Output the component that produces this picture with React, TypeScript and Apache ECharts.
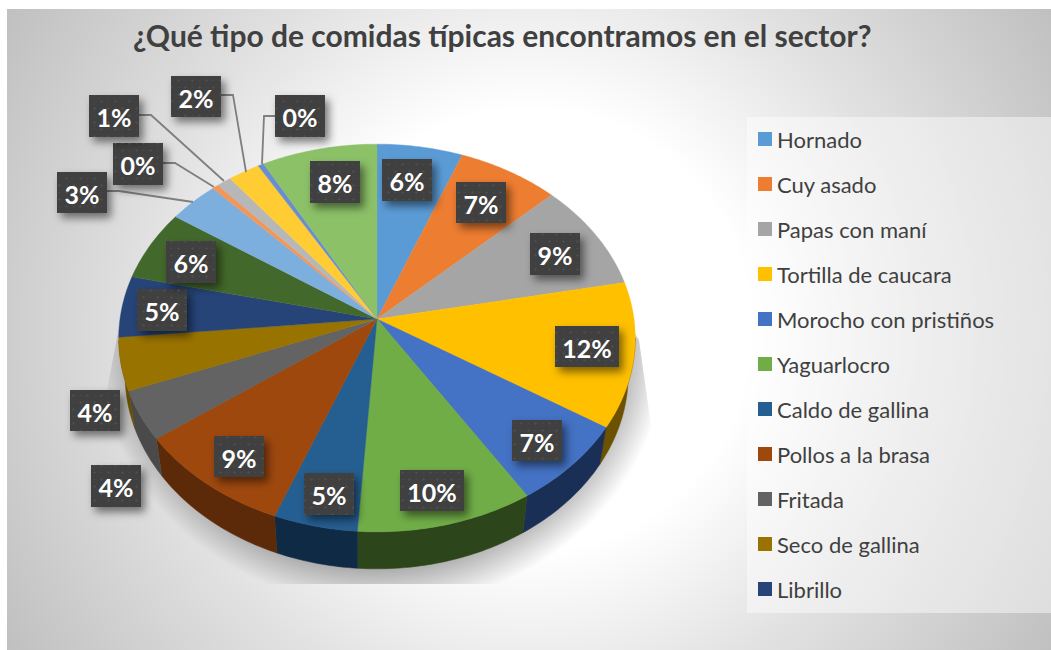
import React, { useEffect, useRef } from "react";
import * as echarts from "echarts";

const TITLE = "¿Qué tipo de comidas típicas encontramos en el sector?";
const legendNames = [
  "Hornado", "Cuy asado", "Papas con maní", "Tortilla de caucara", "Morocho con pristiños",
  "Yaguarlocro", "Caldo de gallina", "Pollos a la brasa", "Fritada", "Seco de gallina", "Librillo",
];
// Slices in drawing order, clockwise from the top. The last seven have no visible legend entry.
const sliceValues = [5.9, 7.0, 9.0, 12.1, 7.0, 10.1, 4.8, 9.1, 4.1, 4.4, 5.1, 5.9, 3.49, 0.45, 1.0, 2.2, 0.4, 7.96];
const sliceColors = [
  "#5B9BD5", "#ED7D31", "#A5A5A5", "#FFC000", "#4472C4", "#70AD47", "#255E91", "#9E480E", "#636363",
  "#997300", "#264478", "#43682B", "#7CAFDD", "#F1975A", "#B7B7B7", "#FFCD33", "#698ED0", "#8CC168",
];
const wallColors = [
  "#2a4a66", "#703b17", "#4e4e4e", "#6b5100", "#1a2f55", "#2d451a", "#0f2a45", "#5c2a08", "#4a4a4a",
  "#6b5100", "#121f38", "#1f3114", "#3a5268", "#72472a", "#565656", "#786118", "#324362", "#425b31",
];
// Hand-placed data label boxes [x, y, w, h], one per slice, as in the reference.
const labelBoxes = [
  [382, 159, 50, 42], [456, 182, 50, 41], [530, 233, 50, 42], [555, 326, 64, 41], [512, 420, 50, 41],
  [400, 470, 64, 41], [304, 473, 50, 42], [214, 436, 50, 41], [91, 465, 50, 42], [70, 390, 50, 41],
  [137, 289, 50, 42], [166, 241, 50, 42], [57, 172, 50, 41], [113, 143, 50, 42], [89, 95, 50, 42],
  [171, 76, 50, 41], [275, 95, 50, 42], [310, 161, 50, 42],
];
const leaderLines = [
  [[107, 191], [119, 191], [193, 202]],
  [[163, 163], [175, 163], [214, 187]],
  [[139, 115], [151, 115], [224, 181]],
  [[221, 95], [233, 95], [246, 172]],
  [[275, 116], [264, 116], [262, 164]],
];

const total = sliceValues.reduce((a, b) => a + b, 0);
const cumulative: number[] = [0];
sliceValues.forEach((v, i) => cumulative.push(cumulative[i] + v));

// Pie projected in perspective: apex is the pie's centre, the rim an off-centre ellipse.
const CX = 377, CY = 319, A = 257, B = 192, K = 0.098, DEPTH = 37, SIL_Y = 338;
const project = (phi: number) => {
  const v = -Math.cos(phi);
  const d = 1 - K * v;
  return [CX + (A * Math.sin(phi)) / d, CY + (B * v) / d];
};
const rim = (from: number, to: number) => {
  const n = Math.max(2, Math.ceil(((to - from) * 180) / Math.PI));
  const out: number[][] = [];
  for (let i = 0; i <= n; i++) out.push(project(from + ((to - from) * i) / n));
  return out;
};
const sliceElements = (i: number) => {
  const from = (cumulative[i] / total) * Math.PI * 2;
  const to = (cumulative[i + 1] / total) * Math.PI * 2;
  const arc = rim(from, to);
  const children: any[] = [];
  const front = arc.filter((p) => p[1] > SIL_Y);
  if (front.length > 1) {
    const lower = front.map((p) => [363 + (p[0] - 363) * 0.974, p[1] + DEPTH]).reverse();
    children.push({
      type: "polygon", z2: 1, silent: true,
      shape: { points: [...front, ...lower] },
      style: { fill: wallColors[i], stroke: wallColors[i], lineWidth: 0.5 },
    });
  }
  children.push({
    type: "polygon", z2: 2, silent: true,
    shape: { points: [[CX, CY], ...arc] },
    style: { fill: sliceColors[i], stroke: sliceColors[i], lineWidth: 0.4 },
  });
  return { type: "group", children };
};

const DOTS =
  "data:image/svg+xml," +
  encodeURIComponent(
    '<svg xmlns="http://www.w3.org/2000/svg" width="14" height="14"><circle cx="3.5" cy="3.5" r="1.1" fill="#525252"/><circle cx="10.5" cy="10.5" r="1.1" fill="#525252"/><circle cx="10.5" cy="3.5" r="0.8" fill="#4a4a4a"/><circle cx="3.5" cy="10.5" r="0.8" fill="#4a4a4a"/></svg>'
  );

const labelElements = () => {
  const out: any[] = [];
  leaderLines.forEach((pts) =>
    out.push({
      type: "polyline", z: 8, silent: true,
      shape: { points: pts },
      style: { fill: "none", stroke: "#7f7f7f", lineWidth: 1.8 },
    })
  );
  sliceValues.forEach((v, i) => {
    const [x, y, w, h] = labelBoxes[i];
    out.push({
      type: "rect", z: 9, silent: true,
      shape: { x, y, width: w, height: h },
      style: { fill: "#404040", shadowBlur: 8, shadowOffsetX: 4, shadowOffsetY: 5, shadowColor: "rgba(0,0,0,0.5)" },
    });
    out.push({
      type: "rect", z: 10, silent: true,
      shape: { x, y, width: w, height: h },
      style: { fill: { image: DOTS, repeat: "repeat", imageWidth: 14, imageHeight: 14 } },
    });
    out.push({
      type: "text", z: 11, silent: true,
      style: {
        x: x + w / 2, y: y + h / 2 + 1,
        text: `${Math.round(v)}%`,
        fill: "#ffffff",
        font: "700 25px Lato",
        align: "center", verticalAlign: "middle",
      },
    });
  });
  return out;
};

export default function App() {
  const ref = useRef<HTMLDivElement>(null);
  useEffect(() => {
    const chart = echarts.init(ref.current!, undefined, { renderer: "svg" });
    chart.setOption({
      animation: false,
      title: {
        text: TITLE, left: 128, top: 15,
        textStyle: { fontFamily: "Lato", fontWeight: 700, fontSize: 30, color: "#404040" },
      },
      legend: {
        data: legendNames, orient: "vertical", left: 758, top: 128,
        icon: "rect", itemWidth: 14, itemHeight: 14, itemGap: 23, selectedMode: false,
        textStyle: { fontFamily: "Lato", fontSize: 22, color: "#404040" },
        padding: 0,
      },
      graphic: {
        elements: [
          {
            type: "rect", z: -2, silent: true,
            shape: { x: 7, y: 9, width: 1044, height: 641 },
            style: {
              fill: {
                type: "radial", x: 530, y: 330, r: 612, global: true,
                colorStops: [
                  { offset: 0, color: "#ffffff" },
                  { offset: 0.36, color: "#ffffff" },
                  { offset: 0.63, color: "#e2e2e2" },
                  { offset: 1, color: "#c0c0c0" },
                ],
              },
            },
          },
          {
            type: "rect", z: -1, silent: true,
            shape: { x: 747, y: 117, width: 304, height: 496 },
            style: { fill: "rgba(255,255,255,0.45)" },
          },
          ...labelElements(),
        ],
      },
      series: [
        {
          type: "custom", coordinateSystem: "none", z: 1, silent: true, data: [[0]],
          renderItem: () => ({
            type: "ellipse",
            silent: true,
            shape: { cx: 382, cy: 345, rx: 285, ry: 262 },
            clipPath: {
              type: "polygon",
              shape: { points: [[119, 327], [630, 327], [639, 340], [653, 440], [653, 584], [100, 584], [106, 395]] },
            },
            style: {
              fill: {
                type: "radial", x: 0.5, y: 0.5, r: 0.5,
                colorStops: [
                  { offset: 0, color: "rgba(0,0,0,0.28)" },
                  { offset: 0.86, color: "rgba(0,0,0,0.28)" },
                  { offset: 1, color: "rgba(0,0,0,0)" },
                ],
              },
            },
          }),
        },
        ...sliceValues.map((v, i) => ({
          type: "custom",
          name: legendNames[i],
          coordinateSystem: "none",
          z: 2,
          silent: true,
          itemStyle: { color: sliceColors[i] },
          data: [[v]],
          renderItem: () => sliceElements(i),
        })),
      ],
    });
    return () => chart.dispose();
  }, []);
  return <div ref={ref} style={{ position: "absolute", left: 0, top: 0, width: 1051, height: 650 }} />;
}
